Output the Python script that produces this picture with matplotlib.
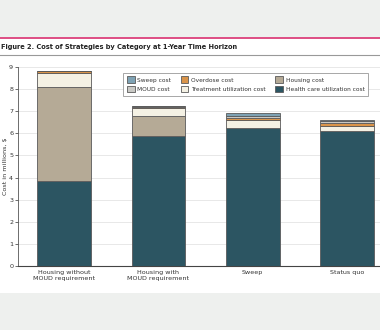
import matplotlib
matplotlib.use('Agg')
import matplotlib.pyplot as plt
from matplotlib.patches import Rectangle
from matplotlib.lines import Line2D
import numpy as np

categories = ['Housing without\nMOUD requirement', 'Housing with\nMOUD requirement', 'Sweep', 'Status quo']

# cost components in millions of $, stacked bottom to top
health_care = [3.85, 5.90, 6.25, 6.12]
housing = [4.25, 0.90, 0.00, 0.00]
treatment = [0.65, 0.35, 0.35, 0.23]
overdose = [0.05, 0.05, 0.10, 0.10]
moud = [0.00, 0.05, 0.10, 0.12]
sweep = [0.00, 0.00, 0.10, 0.02]

series = [
    ('Health care utilization cost', health_care, '#2c5562'),
    ('Housing cost', housing, '#b5aa96'),
    ('Treatment utilization cost', treatment, '#f4f1e4'),
    ('Overdose cost', overdose, '#d9944a'),
    ('MOUD cost', moud, '#c9c9c5'),
    ('Sweep cost', sweep, '#7ea2b4'),
]

fig = plt.figure(figsize=(3.8, 3.3), dpi=100)
fig.patch.set_facecolor('#eef0ee')

# white panel, pink rule, title rule
fig.add_artist(Rectangle((0, 37 / 330), 1, 1 - 37 / 330 - 37 / 330, transform=fig.transFigure,
                         facecolor='white', edgecolor='none', zorder=0))
fig.add_artist(Line2D([0, 1], [1 - 37.5 / 330] * 2, transform=fig.transFigure,
                      color='#d8306e', lw=1.2))
fig.add_artist(Line2D([0, 1], [1 - 55 / 330] * 2, transform=fig.transFigure,
                      color='#999999', lw=0.8))
fig.text(0.002, 1 - 47 / 330, 'Figure 2. Cost of Strategies by Category at 1-Year Time Horizon',
         fontsize=4.8, fontweight='bold', color='#222222', va='center', ha='left')

ax = fig.add_axes([18 / 380, 64 / 330, 1 - 18 / 380, 199 / 330])
ax.set_facecolor('none')

x = np.arange(len(categories))
bottom = np.zeros(len(categories))
handles = {}
for name, vals, color in series:
    b = ax.bar(x, vals, 0.57, bottom=bottom, color=color, edgecolor='#5a5a5a',
               linewidth=0.6, label=name, zorder=3)
    handles[name] = b
    bottom += np.array(vals)

ax.set_xlim(-0.49, 3.35)
ax.set_ylim(0, 9)
ax.set_yticks(range(10))
ax.set_xticks(x)
ax.set_xticklabels(categories, fontsize=4.6, color='#333333')
ax.tick_params(axis='y', labelsize=4.6, colors='#333333', length=2, width=0.5, pad=1.5)
ax.tick_params(axis='x', length=0, pad=3)
ax.grid(axis='y', color='#e4e4e4', lw=0.6, zorder=0)
for s in ['top', 'right']:
    ax.spines[s].set_visible(False)
ax.spines['left'].set_color('#555555')
ax.spines['left'].set_linewidth(0.6)
ax.spines['bottom'].set_color('#444444')
ax.spines['bottom'].set_linewidth(0.8)
ax.set_ylabel('Cost in millions, $', fontsize=4.6, color='#333333', labelpad=1)

order = ['Sweep cost', 'MOUD cost', 'Overdose cost', 'Treatment utilization cost',
         'Housing cost', 'Health care utilization cost']
leg = ax.legend([handles[n] for n in order], order, ncol=3, fontsize=4.2,
                loc='upper right', bbox_to_anchor=(0.975, 0.985), fancybox=False,
                edgecolor='#999999', framealpha=1, handlelength=1.3, handleheight=1.3,
                columnspacing=1.6, handletextpad=0.5, borderpad=0.6, labelspacing=0.55)
leg.get_frame().set_linewidth(0.6)
for t in leg.get_texts():
    t.set_color('#333333')

fig.savefig('out.png', dpi=100)
